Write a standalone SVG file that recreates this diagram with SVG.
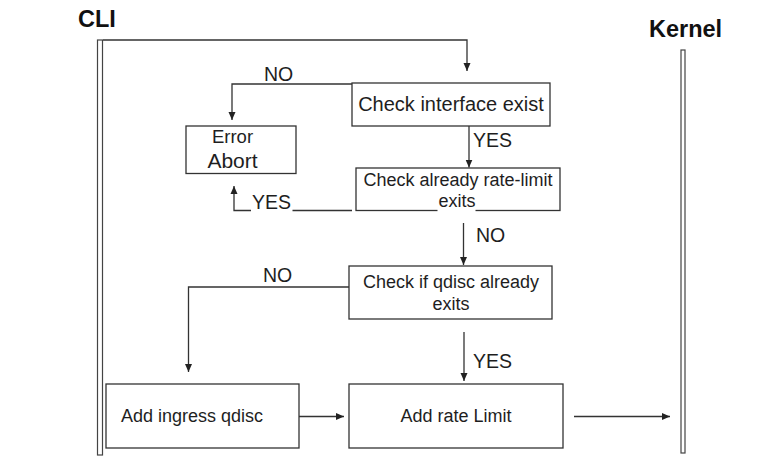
<svg xmlns="http://www.w3.org/2000/svg" width="780" height="475" viewBox="0 0 780 475">
<defs>
<marker id="arr" markerUnits="userSpaceOnUse" markerWidth="9" markerHeight="8" refX="8" refY="4" orient="auto">
<path d="M0,0.5 L8,4 L0,7.5 z" fill="#222"/>
</marker>
<style>
.box{fill:#fff;stroke:#333;stroke-width:1.3}
.lane{fill:#fff;stroke:#444;stroke-width:1.2}
.t{font-family:"Liberation Sans",Arial,sans-serif;fill:#1e1e1e}
.h{font-family:"Liberation Sans",Arial,sans-serif;font-weight:bold;font-size:23.5px;fill:#111}
.c{fill:none;stroke:#333;stroke-width:1.3}
.lbl{font-family:"Liberation Sans",Arial,sans-serif;font-size:19.5px;fill:#1e1e1e}
.bg{fill:#fff}
</style>
</defs>
<rect width="780" height="475" fill="#fff"/>

<g id="cli">
<text class="h" x="78" y="26.5">CLI</text>
<rect class="lane" x="97.5" y="40" width="5" height="415"/>
</g>

<g id="kernel">
<text class="h" x="649" y="37">Kernel</text>
<rect class="lane" x="681" y="50" width="4" height="403"/>
</g>

<g id="check-interface">
<rect class="box" x="352" y="83" width="198" height="43"/>
<text class="t" x="451" y="111" font-size="20" text-anchor="middle">Check interface exist</text>
</g>

<g id="error-abort">
<rect class="box" x="186" y="126" width="110" height="47.5"/>
<text class="t" x="232.5" y="143" font-size="18.5" text-anchor="middle">Error</text>
<text class="t" x="232.5" y="168" font-size="21" text-anchor="middle">Abort</text>
</g>

<g id="check-rate-limit">
<rect class="box" x="356" y="168" width="204" height="42.5"/>
<text class="t" x="458" y="186" font-size="18" text-anchor="middle">Check already rate-limit</text>
<rect class="bg" x="437.5" y="195" width="38" height="18"/>
<text class="t" x="457" y="206.5" font-size="18" text-anchor="middle">exits</text>
</g>

<g id="check-qdisc">
<rect class="box" x="349" y="266" width="203" height="53"/>
<text class="t" x="451" y="287.5" font-size="18" text-anchor="middle">Check if qdisc already</text>
<text class="t" x="451" y="310" font-size="18" text-anchor="middle">exits</text>
</g>

<g id="add-ingress">
<rect class="box" x="106" y="384" width="193" height="64"/>
<text class="t" x="121" y="421.5" font-size="18">Add ingress qdisc</text>
</g>

<g id="add-rate-limit">
<rect class="box" x="349" y="384" width="214" height="64"/>
<text class="t" x="456" y="421.5" font-size="18" text-anchor="middle">Add rate Limit</text>
</g>

<g id="connectors">
<path class="c" d="M103,40 H467 V71" marker-end="url(#arr)"/>
<path class="c" d="M352,84 H232 V120" marker-end="url(#arr)"/>
<text class="lbl" x="264" y="81">NO</text>
<path class="c" d="M469,126 V167.5" marker-end="url(#arr)"/>
<text class="lbl" x="473" y="147">YES</text>
<path class="c" d="M352,210.5 H234 V186" marker-end="url(#arr)"/>
<rect class="bg" x="251" y="193" width="41.5" height="19"/>
<text class="lbl" x="252" y="209">YES</text>
<path class="c" d="M463.5,223 V265" marker-end="url(#arr)"/>
<text class="lbl" x="476" y="242">NO</text>
<path class="c" d="M349,287 H188.5 V372" marker-end="url(#arr)"/>
<text class="lbl" x="263" y="282">NO</text>
<path class="c" d="M464,332 V381" marker-end="url(#arr)"/>
<text class="lbl" x="473" y="367.5">YES</text>
<path class="c" d="M299,416.5 H344" marker-end="url(#arr)"/>
<path class="c" d="M574,416.5 H670" marker-end="url(#arr)"/>
</g>
</svg>
